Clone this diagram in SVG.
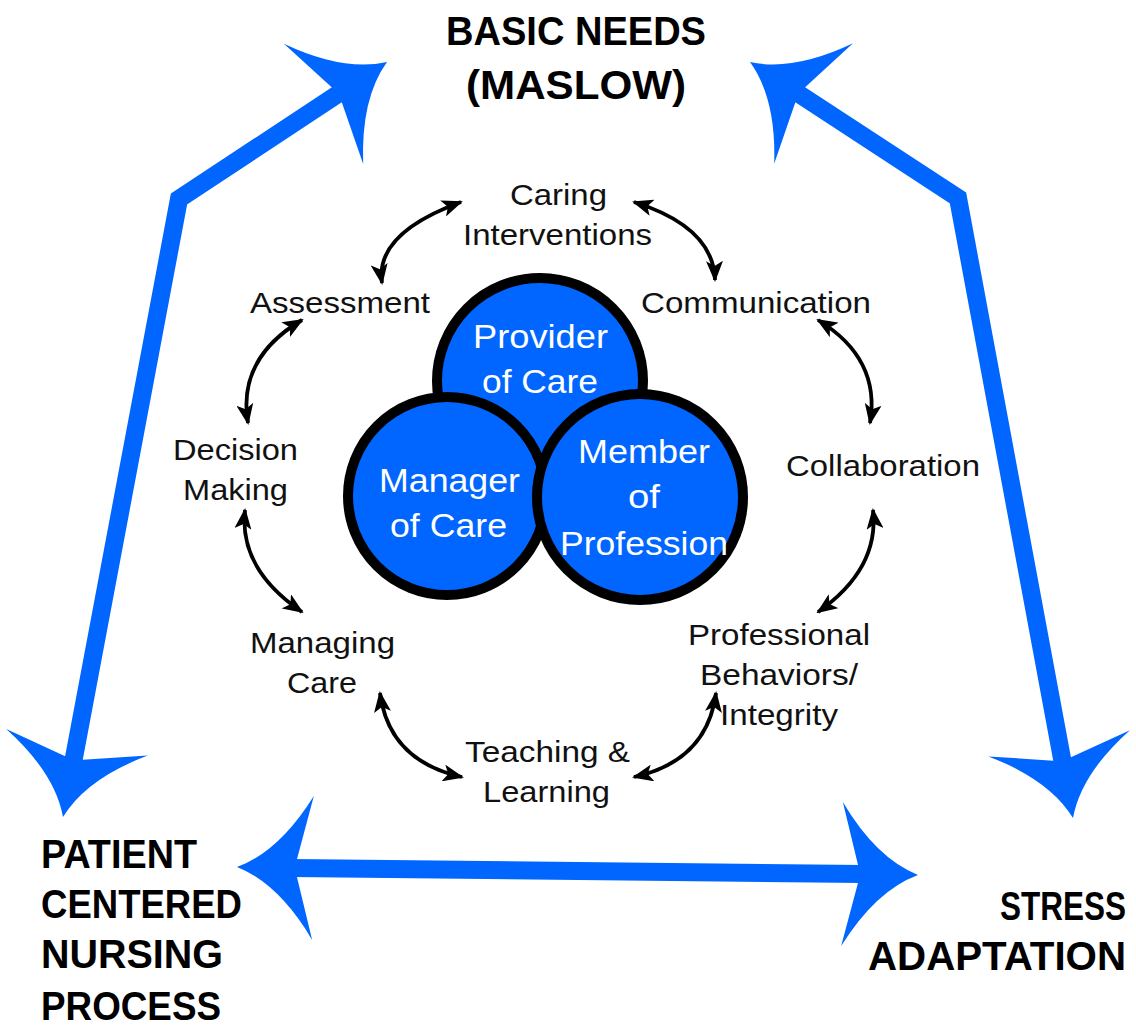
<svg xmlns="http://www.w3.org/2000/svg" xmlns:xlink="http://www.w3.org/1999/xlink" width="1136" height="1031" viewBox="0 0 1136 1031">
<style>
.big{fill:none;stroke:#0066ff;stroke-width:18;stroke-linejoin:miter;stroke-miterlimit:10}
.head{fill:#0066ff}
.arc{fill:none;stroke:#000;stroke-width:3.8;marker-start:url(#ah);marker-end:url(#ah)}
.circ{fill:#0066ff;stroke:#000;stroke-width:10}
.lbl{font-family:"Liberation Sans",Arial,sans-serif;font-size:29px;fill:#111;text-anchor:middle}
.clbl{font-family:"Liberation Sans",Arial,sans-serif;font-size:33px;fill:#fff;text-anchor:middle}
.hd{font-family:"Liberation Sans",Arial,sans-serif;font-size:40px;font-weight:bold;fill:#000}
</style>
<defs>
<path id="bh" d="M0 0 Q-42 -16 -76 -72 L-60 -9 L-60 9 L-76 72 Q-42 16 0 0 Z"/>
<marker id="ah" viewBox="0 0 21 17" refX="19" refY="8.5" markerWidth="21" markerHeight="17" markerUnits="userSpaceOnUse" orient="auto-start-reverse">
<path d="M0 0 L21 8.5 L0 17 L5 8.5 Z" fill="#000"/>
</marker>
</defs>
<rect width="1136" height="1031" fill="#fff"/>

<g id="connectors">
<g id="blue-arrows">
<path class="big" d="M341 92 L179 199 L73 763"/>
<path class="big" d="M796 92 L958 198 L1063 764"/>
<path class="big" d="M292 868 L863 874"/>
<use href="#bh" class="head" transform="translate(387,62) rotate(-33.4)"/>
<use href="#bh" class="head" transform="translate(63,817) rotate(100.6)"/>
<use href="#bh" class="head" transform="translate(750,62) rotate(-146.8)"/>
<use href="#bh" class="head" transform="translate(1073,818) rotate(79.5)"/>
<use href="#bh" class="head" transform="translate(237,867) rotate(180.67)"/>
<use href="#bh" class="head" transform="translate(918,875) rotate(0.67)"/>
</g>
<g id="cycle-arrows">
<path class="arc" d="M461 202 Q374.5 233.5 382 283"/>
<path class="arc" d="M634 202 Q713.5 227 715 280"/>
<path class="arc" d="M302 320 Q237 358.5 248 423"/>
<path class="arc" d="M245 510 Q238.5 569 302 612"/>
<path class="arc" d="M380 693 Q389 761 462 777"/>
<path class="arc" d="M634 777 Q707 761 716 693"/>
<path class="arc" d="M873 510 Q879.5 569 818 612"/>
<path class="arc" d="M818 320 Q881 358.5 870 423"/>
</g>
</g>

<g id="provider-of-care">
<circle class="circ" cx="540" cy="381" r="103"/>
<text class="clbl" x="540.5" y="348" textLength="135" lengthAdjust="spacingAndGlyphs">Provider</text>
<text class="clbl" x="540" y="393" textLength="116" lengthAdjust="spacingAndGlyphs">of Care</text>
</g>
<g id="manager-of-care">
<circle class="circ" cx="447" cy="496" r="99"/>
<text class="clbl" x="449.5" y="492" textLength="141" lengthAdjust="spacingAndGlyphs">Manager</text>
<text class="clbl" x="448.5" y="537" textLength="117" lengthAdjust="spacingAndGlyphs">of Care</text>
</g>
<g id="member-of-profession">
<circle class="circ" cx="640" cy="497" r="103"/>
<text class="clbl" x="644" y="463" textLength="132" lengthAdjust="spacingAndGlyphs">Member</text>
<text class="clbl" x="644" y="508" textLength="32" lengthAdjust="spacingAndGlyphs">of</text>
<text class="clbl" x="644" y="555" textLength="168" lengthAdjust="spacingAndGlyphs">Profession</text>
</g>

<g id="caring-interventions">
<text class="lbl" x="558.5" y="205" textLength="97" lengthAdjust="spacingAndGlyphs">Caring</text>
<text class="lbl" x="557.5" y="245" textLength="189" lengthAdjust="spacingAndGlyphs">Interventions</text>
</g>
<g id="assessment">
<text class="lbl" x="340" y="313" textLength="180" lengthAdjust="spacingAndGlyphs">Assessment</text>
</g>
<g id="communication">
<text class="lbl" x="756" y="313" textLength="230" lengthAdjust="spacingAndGlyphs">Communication</text>
</g>
<g id="decision-making">
<text class="lbl" x="235.5" y="460" textLength="125" lengthAdjust="spacingAndGlyphs">Decision</text>
<text class="lbl" x="235.5" y="500" textLength="105" lengthAdjust="spacingAndGlyphs">Making</text>
</g>
<g id="collaboration">
<text class="lbl" x="883" y="476" textLength="194" lengthAdjust="spacingAndGlyphs">Collaboration</text>
</g>
<g id="managing-care">
<text class="lbl" x="322.5" y="653" textLength="145" lengthAdjust="spacingAndGlyphs">Managing</text>
<text class="lbl" x="322" y="693" textLength="70" lengthAdjust="spacingAndGlyphs">Care</text>
</g>
<g id="professional-behaviors">
<text class="lbl" x="779" y="645" textLength="182" lengthAdjust="spacingAndGlyphs">Professional</text>
<text class="lbl" x="779" y="685" textLength="158" lengthAdjust="spacingAndGlyphs">Behaviors/</text>
<text class="lbl" x="779" y="725" textLength="118" lengthAdjust="spacingAndGlyphs">Integrity</text>
</g>
<g id="teaching-learning">
<text class="lbl" x="547.5" y="762" textLength="165" lengthAdjust="spacingAndGlyphs">Teaching &amp;</text>
<text class="lbl" x="546.5" y="802" textLength="127" lengthAdjust="spacingAndGlyphs">Learning</text>
</g>

<g id="basic-needs">
<text class="hd" x="576" y="45" text-anchor="middle" textLength="260" lengthAdjust="spacingAndGlyphs">BASIC NEEDS</text>
<text class="hd" x="576" y="99" text-anchor="middle" textLength="220" lengthAdjust="spacingAndGlyphs">(MASLOW)</text>
</g>
<g id="patient-centered">
<text class="hd" x="41" y="868" textLength="156" lengthAdjust="spacingAndGlyphs">PATIENT</text>
<text class="hd" x="41" y="918" textLength="201" lengthAdjust="spacingAndGlyphs">CENTERED</text>
<text class="hd" x="41" y="968" textLength="182" lengthAdjust="spacingAndGlyphs">NURSING</text>
<text class="hd" x="41" y="1020" textLength="180" lengthAdjust="spacingAndGlyphs">PROCESS</text>
</g>
<g id="stress-adaptation">
<text class="hd" x="1126" y="920" text-anchor="end" textLength="126" lengthAdjust="spacingAndGlyphs">STRESS</text>
<text class="hd" x="1126" y="970" text-anchor="end" textLength="258" lengthAdjust="spacingAndGlyphs">ADAPTATION</text>
</g>
</svg>
